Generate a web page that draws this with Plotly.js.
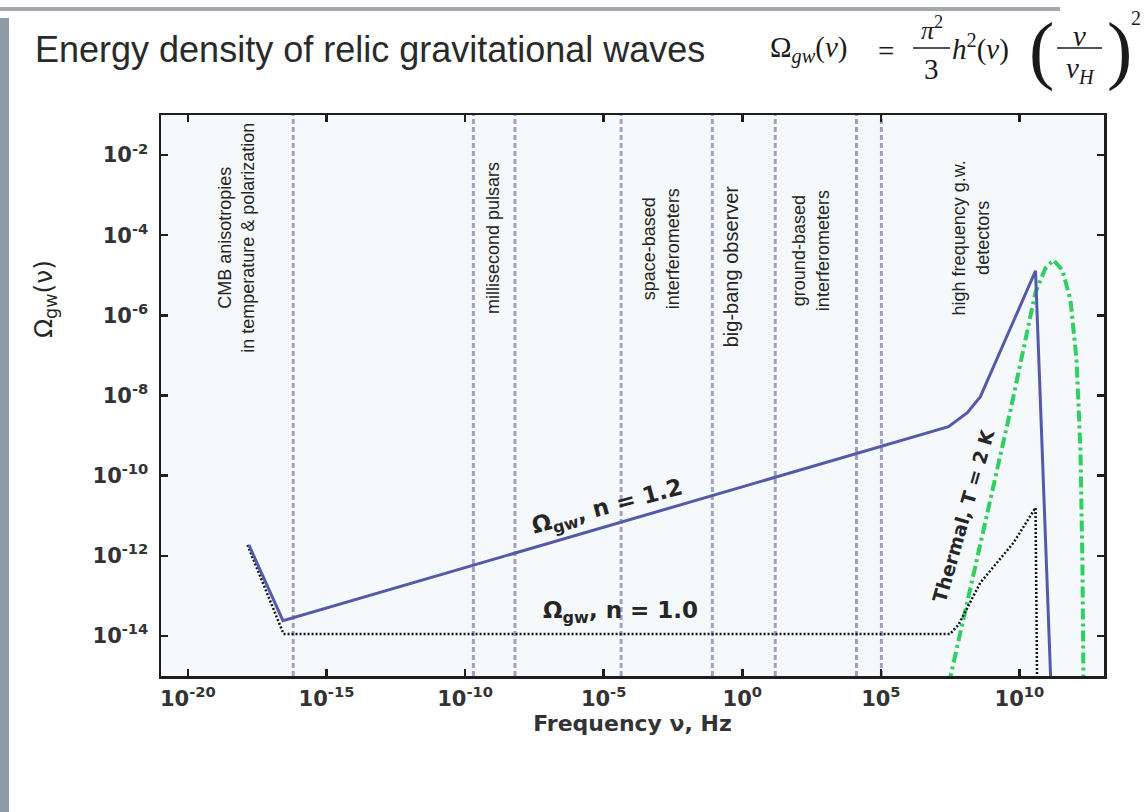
<!DOCTYPE html>
<html>
<head>
<meta charset="utf-8">
<script src="https://cdn.plot.ly/plotly-3.0.1.min.js"></script>
<style>
html,body{margin:0;padding:0;background:#fff;}
#chart{width:1144px;height:812px;}
</style>
</head>
<body>
<div id="chart"></div>
<script>
// ---- data (log10 values) ----
// Relic GW spectrum, n = 1.2 (solid blue)
const blueLogNu    = [-17.8, -16.57, 7.44, 8.12, 8.59, 10.58, 11.15];
const blueLogOmega = [-11.73, -13.62, -8.78, -8.43, -8.03, -4.89, -15.5];
// Relic GW spectrum, n = 1.0 (dotted black)
const dotLogNu     = [-17.85, -16.55, 7.5, 7.8, 8.59, 9.78, 10.58, 10.64];
const dotLogOmega  = [-11.73, -13.95, -13.95, -13.72, -12.67, -11.68, -10.8, -15.5];
// Thermal spectrum, T = 2 K (green dash-dot)
const thermLogNu    = [7.45, 8.23, 8.95, 9.68, 10.22, 10.58, 10.94, 11.23, 11.55, 11.84, 12.06, 12.2, 12.27, 12.31];
const thermLogOmega = [-15.2, -12.85, -10.6, -8.36, -6.61, -5.42, -4.82, -4.62, -4.87, -5.62, -7.11, -9.36, -12.1, -15.2];
// Boundaries of detector bands (dashed verticals)
const bandLogNu = [-16.2, -9.7, -8.2, -4.37, -1.08, 1.19, 4.12, 5.02];
// Band labels
const bandLabels = [
  "CMB anisotropies<br>in temperature & polarization",
  "millisecond pulsars",
  "space-based<br>interferometers",
  "big-bang observer",
  "ground-based<br>interferometers",
  "high frequency g.w.<br>detectors"
];
const bandLabelLogNu = [-18.27, -8.99, -2.92, -0.4, 2.49, 8.23];
const bandLabelLogOm = [-4.07, -4.07, -4.34, -4.77, -4.39, -4.07];
const bandLabelSize  = [18, 18, 18, 20, 18, 18];
// Tick labels
const xTickExp  = [-20, -15, -10, -5, 0, 5, 10];
const xTickText = ['10<sup>-20</sup>', '10<sup>-15</sup>', '10<sup>-10</sup>', '10<sup>-5</sup>', '10<sup>0</sup>', '10<sup>5</sup>', '10<sup>10</sup>'];
const yTickExp  = [-2, -4, -6, -8, -10, -12, -14];
const yTickText = ['10<sup>-2</sup>', '10<sup>-4</sup>', '10<sup>-6</sup>', '10<sup>-8</sup>', '10<sup>-10</sup>', '10<sup>-12</sup>', '10<sup>-14</sup>'];

const pow10 = a => a.map(v => v === null ? null : Math.pow(10, v));

// plot area in pixels (layout)
const PL = 161, PR = 1104, PT = 115, PB = 676;
const px = x => (x - PL) / (PR - PL);
const py = y => (PB - y) / (PB - PT);

// vertical lines trace
const vx = [], vy = [];
bandLogNu.forEach(v => { vx.push(v, v, null); vy.push(-16, 0, null); });

const traces = [
  {x: pow10(vx), y: pow10(vy), mode: 'lines', hoverinfo: 'skip',
   line: {color: '#9ea2c2', width: 3, dash: '5px,3px'}},
  {x: pow10(thermLogNu), y: pow10(thermLogOmega), mode: 'lines',
   line: {color: '#2fd060', width: 4, dash: '11px,4px,3px,4px'}},
  {x: pow10(dotLogNu), y: pow10(dotLogOmega), mode: 'lines',
   line: {color: '#151515', width: 2.5, dash: '2px,2px'}},
  {x: pow10(blueLogNu), y: pow10(blueLogOmega), mode: 'lines',
   line: {color: '#5559aa', width: 3}}
];

const annotations = [];
bandLabels.forEach((t, i) => annotations.push({
  x: bandLabelLogNu[i], y: bandLabelLogOm[i], xref: 'x', yref: 'y', text: t,
  showarrow: false, textangle: -90, xanchor: 'center', yanchor: 'middle',
  font: {family: 'Liberation Sans, Arial, sans-serif', size: bandLabelSize[i], color: '#252525'}
}));
const boldFont = s => ({family: 'DejaVu Sans, sans-serif', size: s, color: '#262626', weight: 'bold'});
const P = (x, y, o) => Object.assign({x: px(x), y: py(y), xref: 'paper', yref: 'paper', showarrow: false,
                                      xanchor: 'center', yanchor: 'middle'}, o);
annotations.push(
  {x: -4.87, y: -10.8, xref: 'x', yref: 'y', text: 'Ω<sub>gw</sub>, n = 1.2', showarrow: false,
   textangle: -15, xanchor: 'center', yanchor: 'middle', font: boldFont(23)},
  {x: -4.4, y: -13.4, xref: 'x', yref: 'y', text: 'Ω<sub>gw</sub>, n = 1.0', showarrow: false,
   xanchor: 'center', yanchor: 'middle', font: boldFont(23)},
  {x: 7.98, y: -10.98, xref: 'x', yref: 'y', text: 'Thermal, T = 2 K', showarrow: false,
   textangle: -74, xanchor: 'center', yanchor: 'middle', font: boldFont(19)},
  // y axis title
  P(45, 299, {text: 'Ω<sub>gw</sub>(ν)', textangle: -90,
   font: {family: 'DejaVu Sans, sans-serif', size: 25, color: '#262626'}}),
  // title
  P(33, 50, {xanchor: 'left', text: 'Energy density of relic gravitational waves',
   font: {family: 'Liberation Sans, Arial, sans-serif', size: 36, color: '#2a2a2a'}})
);
// formula  Ω_gw(ν) = π²/3 h²(ν) (ν/ν_H)²
const serif = s => ({family: 'Liberation Serif, DejaVu Serif, serif', size: s, color: '#1a1a1a'});
annotations.push(
  P(768, 50, {xanchor: 'left', text: 'Ω<sub><i>gw</i></sub>(<i>ν</i>)', font: serif(29)}),
  P(886, 51, {text: '=', font: serif(29)}),
  P(932, 28, {text: '<i>π</i><sup>2</sup>', font: serif(26)}),
  P(931, 69, {text: '3', font: serif(29)}),
  P(950, 47, {xanchor: 'left', text: '<i>h</i><sup>2</sup>(<i>ν</i>)', font: serif(29)}),
  P(1041, 50, {text: '(', font: serif(76)}),
  P(1079, 36, {text: '<i>ν</i>', font: serif(29)}),
  P(1080, 70, {text: '<i>ν</i><sub><i>H</i></sub>', font: serif(29)}),
  P(1119, 50, {text: ')', font: serif(76)}),
  P(1136, 18, {text: '2', font: serif(20)})
);

const shapes = [
  // fraction bars
  {type: 'line', xref: 'paper', yref: 'paper', x0: px(913), x1: px(950), y0: py(48), y1: py(48), line: {color: '#1a1a1a', width: 1.5}},
  {type: 'line', xref: 'paper', yref: 'paper', x0: px(1057), x1: px(1102), y0: py(48), y1: py(48), line: {color: '#1a1a1a', width: 1.5}},
  // page edges of the scanned slide
  {type: 'rect', xref: 'paper', yref: 'paper', x0: px(0), x1: px(9), y0: py(812), y1: py(18), fillcolor: '#8d9aa8', line: {width: 0}},
  {type: 'line', xref: 'paper', yref: 'paper', x0: px(0), x1: px(1060), y0: py(9), y1: py(9), line: {color: '#a3a8ae', width: 4}}
];

const axisCommon = {
  type: 'log', showgrid: false, zeroline: false, showline: true, linecolor: '#1e1e1e', linewidth: 2.5,
  mirror: 'ticks', ticks: 'inside', ticklen: 7, tickwidth: 2.5, tickcolor: '#1e1e1e',
  tickmode: 'array',
  tickfont: {family: 'DejaVu Sans, sans-serif', size: 21, color: '#333', weight: 'bold'}
};

const layout = {
  width: 1144, height: 812,
  margin: {l: PL, r: 1144 - PR, t: PT, b: 812 - PB},
  paper_bgcolor: '#ffffff', plot_bgcolor: '#f5f9fc',
  showlegend: false,
  xaxis: Object.assign({}, axisCommon, {
    range: [-20.97, 13.05], tickvals: pow10(xTickExp), ticktext: xTickText, ticklabelstandoff: 2,
    title: {text: 'Frequency ν, Hz', standoff: 6,
            font: {family: 'DejaVu Sans, sans-serif', size: 22, color: '#333', weight: 'bold'}}
  }),
  yaxis: Object.assign({}, axisCommon, {range: [-15, -1], tickvals: pow10(yTickExp), ticktext: yTickText,
    ticklabelstandoff: 6}),
  annotations: annotations,
  shapes: shapes
};

Plotly.newPlot('chart', traces, layout, {displayModeBar: false, staticPlot: true});
</script>
</body>
</html>
